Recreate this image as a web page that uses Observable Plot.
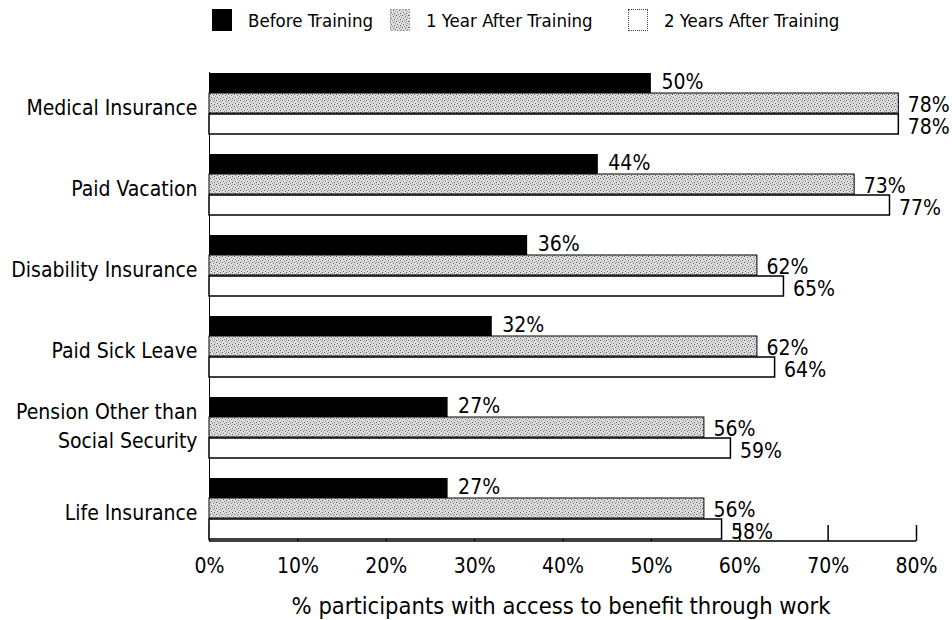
<!DOCTYPE html>
<html><head><meta charset="utf-8">
<script src="https://cdn.jsdelivr.net/npm/d3@7"></script>
<script src="https://cdn.jsdelivr.net/npm/@observablehq/plot@0.6"></script>
<style>
body{margin:0;background:#fff;font-family:"DejaVu Sans Condensed",sans-serif;color:#000;}
#legend{position:relative;height:40px;width:952px;font-size:18.5px;}
.item{position:absolute;top:0;height:40px;display:flex;align-items:center;}
.sw{width:20px;height:22px;margin-right:16px;box-sizing:border-box;}
#caption{height:28px;line-height:28px;text-align:center;font-size:23.5px;width:952px;padding-left:170px;box-sizing:border-box;}
</style></head>
<body>
<div id="legend"></div>
<div id="chart"></div>
<div id="caption"></div>
<script>
const categories = ["Medical Insurance","Paid Vacation","Disability Insurance","Paid Sick Leave","Pension Other than\nSocial Security","Life Insurance"];
const series = ["Before Training","1 Year After Training","2 Years After Training"];
const before = [50,44,36,32,27,27];
const oneYear = [78,73,62,62,56,56];
const twoYears = [78,77,65,64,59,58];
const xTicks = [0,10,20,30,40,50,60,70,80];
const xTitle = "% participants with access to benefit through work";

const rows = [];
categories.forEach((c,i)=>{
  rows.push({category:c, series:series[0], value:before[i]});
  rows.push({category:c, series:series[1], value:oneYear[i]});
  rows.push({category:c, series:series[2], value:twoYears[i]});
});
const s0 = rows.filter(d=>d.series===series[0]);
const s1 = rows.filter(d=>d.series===series[1]);
const s2 = rows.filter(d=>d.series===series[2]);
const singleLine = categories.filter(c => !c.includes("\n"));
const multiLine = categories.filter(c => c.includes("\n"));

const patternSvg = `<svg width="0" height="0" style="position:absolute"><defs>
<pattern id="stip" width="6" height="6" patternUnits="userSpaceOnUse">
<rect width="6" height="6" fill="#dedede"/>
<rect x="0" y="0" width="1" height="1" fill="#555"/>
<rect x="3" y="1" width="1" height="1" fill="#777"/>
<rect x="1" y="3" width="1" height="1" fill="#666"/>
<rect x="4" y="4" width="1" height="1" fill="#555"/>
<rect x="5" y="2" width="1" height="1" fill="#999"/>
<rect x="2" y="5" width="1" height="1" fill="#888"/>
<rect x="4" y="0" width="1" height="1" fill="#aaa"/>
</pattern></defs></svg>`;
document.body.insertAdjacentHTML("afterbegin", patternSvg);

// legend
const legend = document.getElementById("legend");
const lefts = [212, 390, 628];
series.forEach((s,i)=>{
  const it = document.createElement("div");
  it.className = "item";
  it.style.left = lefts[i] + "px";
  const sw = document.createElement("div");
  sw.className = "sw";
  if (i === 0) { sw.style.background = "#000"; }
  else if (i === 1) {
    const ns = "http://www.w3.org/2000/svg";
    const svg = document.createElementNS(ns, "svg");
    svg.setAttribute("width", "20"); svg.setAttribute("height", "22");
    const r = document.createElementNS(ns, "rect");
    r.setAttribute("x", "0.5"); r.setAttribute("y", "0.5");
    r.setAttribute("width", "19"); r.setAttribute("height", "21");
    r.setAttribute("fill", "url(#stip)"); r.setAttribute("stroke", "#666");
    r.setAttribute("stroke-dasharray", "1 2");
    svg.appendChild(r);
    sw.appendChild(svg);
  } else { sw.style.background = "#fff"; sw.style.border = "1px dotted #444"; }
  const t = document.createElement("span");
  t.textContent = s;
  it.appendChild(sw); it.appendChild(t);
  legend.appendChild(it);
});
document.getElementById("caption").textContent = xTitle;

const chart = Plot.plot({
  width: 952,
  height: 552,
  marginTop: 32,
  marginBottom: 52,
  marginLeft: 209,
  marginRight: 36,
  style: {fontFamily: '"DejaVu Sans Condensed",sans-serif', fontSize: "21px", background: "#fff", color: "#000"},
  x: {domain: [0, 80], axis: null},
  y: {domain: categories, paddingInner: 0.247, paddingOuter: 0.012, axis: null},
  marks: [
    Plot.ruleX([0], {stroke: "#000", strokeWidth: 1}),
    Plot.tickX(xTicks, {x: d => d, y: () => categories[5], insetTop: 47, insetBottom: -2, stroke: "#000", strokeWidth: 1.5}),
    Plot.barX(s0, {x: "value", y: "category", fill: "#000", insetBottom: 41}),
    Plot.barX(s1, {x: "value", y: "category", fill: "url(#stip)", stroke: "#000", strokeWidth: 1, insetTop: 20, insetBottom: 21}),
    Plot.barX(s2, {x: "value", y: "category", fill: "#fff", stroke: "#000", strokeWidth: 1.5, insetTop: 41}),
    Plot.ruleY([categories[5]], {y: d => d, x1: 0, x2: 80, dy: 32, stroke: "#000", strokeWidth: 1.5}),
    Plot.text(s0, {x: "value", y: "category", text: d => d.value + "%", dx: 10, dy: -22, textAnchor: "start", fontSize: 21}),
    Plot.text(s1, {x: "value", y: "category", text: d => d.value + "%", dx: 9, dy: 1, textAnchor: "start", fontSize: 21}),
    Plot.text(s2, {x: "value", y: "category", text: d => d.value + "%", dx: 9, dy: 23, textAnchor: "start", fontSize: 21}),
    Plot.axisY(singleLine, {tickSize: 0, tickPadding: 12, fontSize: 21, label: null, dy: 4}),
    Plot.axisY(multiLine, {tickSize: 0, tickPadding: 12, fontSize: 21, lineHeight: 1.4, label: null, dy: -4}),
    Plot.axisX(xTicks, {tickSize: 0, tickPadding: 18, fontSize: 21, label: null, tickFormat: d => d + "%"})
  ]
});
document.getElementById("chart").appendChild(chart);
</script>
</body></html>
